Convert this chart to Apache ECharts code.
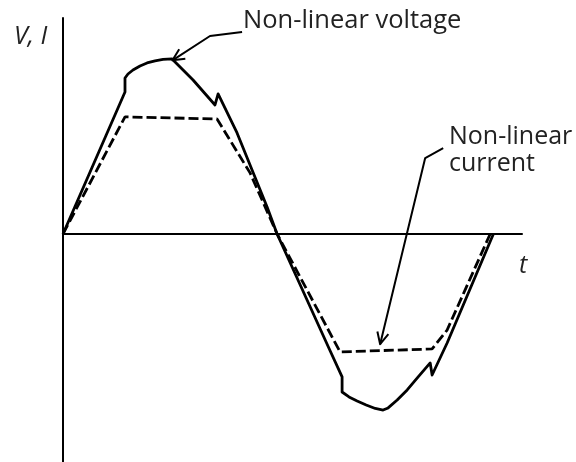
<!DOCTYPE html>
<html>
<head>
<meta charset="utf-8">
<script src="https://cdn.jsdelivr.net/npm/echarts@6/dist/echarts.min.js"></script>
<style>
  html, body { margin: 0; padding: 0; background: #fff; }
  #chart { width: 576px; height: 462px; }
</style>
</head>
<body>
<div id="chart"></div>
<script>
  // phase angle (deg) and amplitude (% of voltage peak)
  var voltT = [0, 52, 52, 54.5, 58.7, 64.6, 70.5, 77.2, 83.9, 91.5, 109.1, 127.5, 130.1, 146, 171.2, 179.6,
               222.6, 234.1, 234.1, 239.9, 246.7, 254.3, 261.9, 268.5, 272.7, 280.3, 288.7, 297.9, 308, 309.6, 322.2, 361]
  var voltV = [0, 81.1, 89.1, 91.4, 93.7, 96, 97.7, 98.9, 99.7, 100, 88, 73.7, 80, 57.7, 15.4, 0,
               -64.6, -81.7, -90.3, -93.1, -95.4, -97.7, -99.7, -100.6, -99.4, -94.9, -89.1, -81.7, -73.7, -80.6, -62.3, 0]

  var currT = [0, 52, 129.2, 156.9, 179.6, 232.4, 309.6, 322.2, 358.3]
  var currI = [0, 66.9, 65.7, 34.9, 0, -67.4, -65.7, -54.9, 0]

  // annotation arrows (same units), last point is the tip
  var voltArrow = [[150.2, 115.4], [123.3, 113.1], [91.8, 99.2]]
  var currArrow = [[318.9, 49.1], [303.8, 43.4], [266.0, -63]]

  function pairs (xs, ys) {
    return xs.map(function (x, i) { return [x, ys[i]] })
  }

  var textFont = '"Open Sans", "Noto Sans", sans-serif'

  var chart = echarts.init(document.getElementById('chart'))
  var option = {
    animation: false,
    grid: { left: 63, right: 54, top: 18, bottom: 0 },
    xAxis: {
      type: 'value',
      min: 0,
      max: 385,
      axisLine: { show: true, onZero: true, lineStyle: { color: '#000', width: 2 } },
      axisTick: { show: false },
      axisLabel: { show: false },
      splitLine: { show: false }
    },
    yAxis: {
      type: 'value',
      min: -130.3,
      max: 123.4,
      axisLine: { show: true, lineStyle: { color: '#000', width: 2 } },
      axisTick: { show: false },
      axisLabel: { show: false },
      splitLine: { show: false }
    },
    series: [
      {
        name: 'voltage',
        type: 'line',
        data: pairs(voltT, voltV),
        symbol: 'none',
        lineStyle: { color: '#000', width: 2.8, join: 'round' }
      },
      {
        name: 'current',
        type: 'line',
        data: pairs(currT, currI),
        symbol: 'none',
        lineStyle: { color: '#000', width: 2.8, type: [10, 4] }
      }
    ]
  }
  chart.setOption(option)

  // arrows: polyline + open arrow head, positioned through the axes
  function arrow (pts) {
    var px = pts.map(function (p) { return chart.convertToPixel({ gridIndex: 0 }, p) })
    var a = px[px.length - 2], b = px[px.length - 1]
    var ang = Math.atan2(a[1] - b[1], a[0] - b[0])
    var len = 13, spread = 0.45
    var h1 = [b[0] + len * Math.cos(ang + spread), b[1] + len * Math.sin(ang + spread)]
    var h2 = [b[0] + len * Math.cos(ang - spread), b[1] + len * Math.sin(ang - spread)]
    var style = { stroke: '#000', lineWidth: 2, fill: null, lineJoin: 'round' }
    return [
      { type: 'polyline', shape: { points: px }, style: style },
      { type: 'polyline', shape: { points: [h1, b, h2] }, style: style }
    ]
  }

  var graphics = [].concat(
    arrow(voltArrow),
    arrow(currArrow),
    [
      { type: 'text', left: 14, top: 24, style: { text: 'V, I', font: 'italic 25px ' + textFont, fill: '#222' } },
      { type: 'text', left: 519, top: 253, style: { text: 't', font: 'italic 25px ' + textFont, fill: '#222' } },
      { type: 'text', left: 243, top: 8, style: { text: 'Non-linear voltage', font: '25.5px ' + textFont, fill: '#222' } },
      { type: 'text', left: 449, top: 123, style: { text: 'Non-linear\ncurrent', font: '25px ' + textFont, lineHeight: 27, fill: '#222' } }
    ]
  )
  chart.setOption({ graphic: graphics })
</script>
</body>
</html>
